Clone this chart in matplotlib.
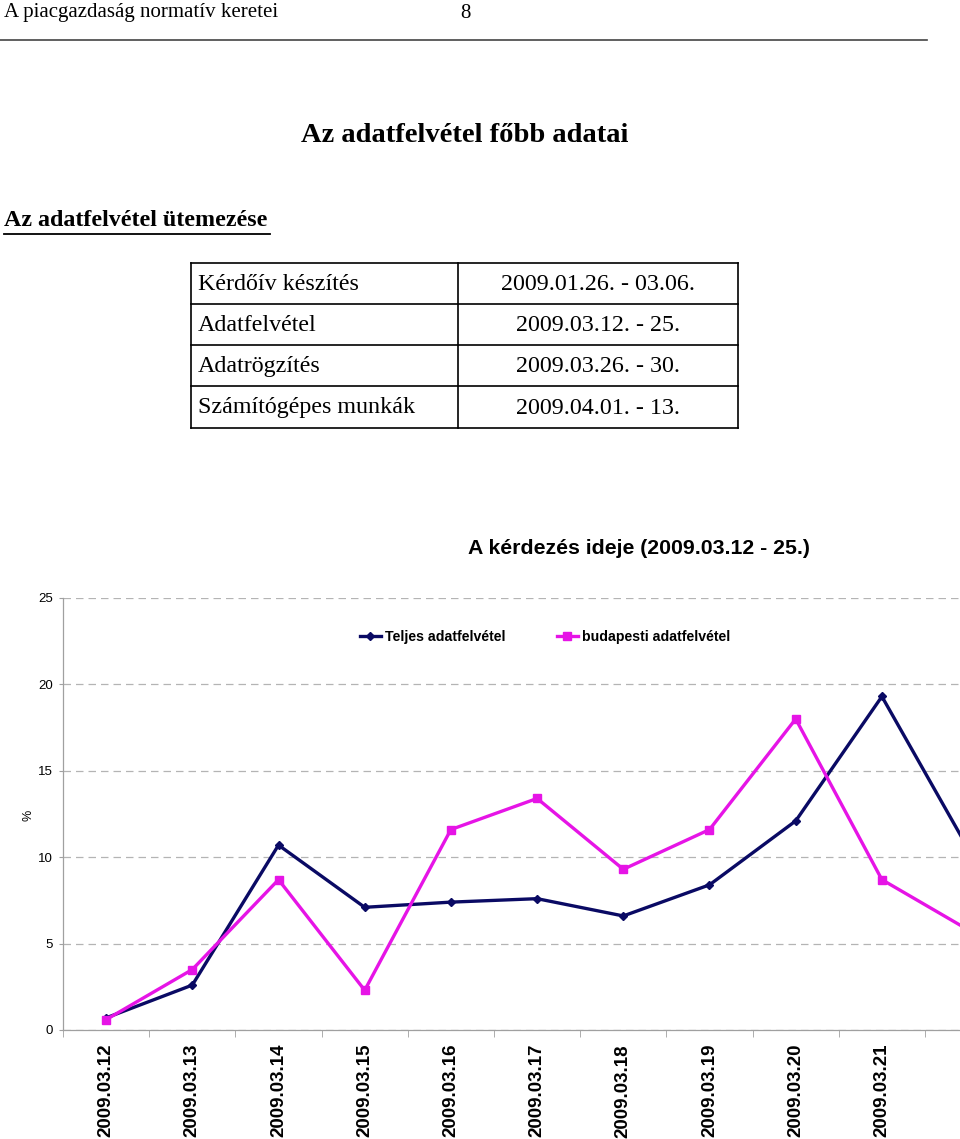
import matplotlib
matplotlib.use('Agg')
import matplotlib.pyplot as plt
import numpy as np

SERIF = 'Liberation Serif'
SANS = 'Liberation Sans'

# schedule table
steps = ['Kérdőív készítés', 'Adatfelvétel', 'Adatrögzítés', 'Számítógépes munkák']
periods = ['2009.01.26. - 03.06.', '2009.03.12. - 25.', '2009.03.26. - 30.', '2009.04.01. - 13.']

# chart data (% per day)
days = ['2009.03.12', '2009.03.13', '2009.03.14', '2009.03.15', '2009.03.16', '2009.03.17',
        '2009.03.18', '2009.03.19', '2009.03.20', '2009.03.21', '2009.03.22']
teljes = [0.7, 2.6, 10.7, 7.1, 7.4, 7.6, 6.6, 8.4, 12.1, 19.3, 10.5]
budapest = [0.6, 3.5, 8.7, 2.3, 11.6, 13.4, 9.3, 11.6, 18.0, 8.7, 5.8]
n_days = 14  # survey period 03.12 - 25, chart is cut at the page edge
n_shown = 10  # labels visible on the page

W, H = 960, 1139
fig = plt.figure(figsize=(W / 100, H / 100), dpi=100)

# page layer in pixel coordinates
doc = fig.add_axes([0, 0, 1, 1])
doc.set_xlim(0, W)
doc.set_ylim(H, 0)
doc.axis('off')

doc.text(4, 13, 'A piacgazdaság normatív keretei', family=SERIF, fontsize=15, va='center')
doc.text(465, 13, '8', family=SERIF, fontsize=15, va='center', ha='center')
doc.plot([0, 927], [40, 40], color='#444444', lw=1.2)

doc.text(465, 135, 'Az adatfelvétel főbb adatai', family=SERIF, fontsize=20.5,
         fontweight='bold', ha='center', va='center')
doc.text(4, 221, 'Az adatfelvétel ütemezése', family=SERIF, fontsize=17.3,
         fontweight='bold', va='center')
doc.plot([4, 270], [234, 234], color='black', lw=1.3)

# table
rows_y = [263, 304, 345, 386, 428]
col_x = [191, 458, 738]
for y in rows_y:
    doc.plot([col_x[0], col_x[2]], [y, y], color='black', lw=1.2)
for x in col_x:
    doc.plot([x, x], [rows_y[0], rows_y[-1]], color='black', lw=1.2)
for i, (s, p) in enumerate(zip(steps, periods)):
    yc = (rows_y[i] + rows_y[i + 1]) / 2 + 1
    doc.text(198, yc, s, family=SERIF, fontsize=17.3, va='center')
    doc.text(598, yc, p, family=SERIF, fontsize=17.3, va='center', ha='center')

doc.text(639, 548, 'A kérdezés ideje (2009.03.12 - 25.)', family=SANS, fontsize=15.3,
         fontweight='bold', ha='center', va='center')

# chart axes
step_px = 86.2
left_px, bottom_px, top_px = 63, 1030, 598
ax = fig.add_axes([left_px / W, (H - bottom_px) / H, n_days * step_px / W, (bottom_px - top_px) / H])
ax.set_facecolor('none')
x = np.arange(len(days))
ax.plot(x, teljes, color='#0a0a64', lw=2.4, marker='D', ms=4.5, label='Teljes adatfelvétel', zorder=3)
ax.plot(x, budapest, color='#e614e6', lw=2.4, marker='s', ms=5.5, label='budapesti adatfelvétel', zorder=3)

ax.set_xlim(-0.5, n_days - 0.5)
ax.set_ylim(0, 25)
ax.set_yticks([0, 5, 10, 15, 20, 25])
ax.yaxis.grid(True, linestyle=(0, (6, 4)), color='#b4b4b4', lw=0.9)
ax.set_axisbelow(True)
for sp in ['top', 'right']:
    ax.spines[sp].set_visible(False)
for sp in ['left', 'bottom']:
    ax.spines[sp].set_color('#a0a0a0')
    ax.spines[sp].set_linewidth(0.9)
ax.tick_params(axis='y', length=3, color='#a0a0a0', labelsize=9.5, pad=4)
for t in ax.get_yticklabels():
    t.set_family(SANS)

ax.set_xticks(x[:n_shown])
ax.set_xticklabels(days[:n_shown], rotation=90, family=SANS, fontsize=13.5, fontweight='bold', va='top')
ax.tick_params(axis='x', length=0, pad=10)
ax.set_xticks(np.arange(n_days + 1) - 0.5, minor=True)
ax.tick_params(axis='x', which='minor', length=5, color='#a0a0a0', direction='out')

doc.text(28, 815, '%', family=SANS, fontsize=9, rotation=90, ha='center', va='center')

leg = ax.legend(loc='center left', bbox_to_anchor=((354 - left_px) / (n_days * step_px), 0.91),
                ncol=2, frameon=False, prop={'family': SANS, 'weight': 'bold', 'size': 10.2},
                handlelength=1.5, handletextpad=0.3, columnspacing=3.6, borderaxespad=0)

fig.savefig('out.png', dpi=100)
